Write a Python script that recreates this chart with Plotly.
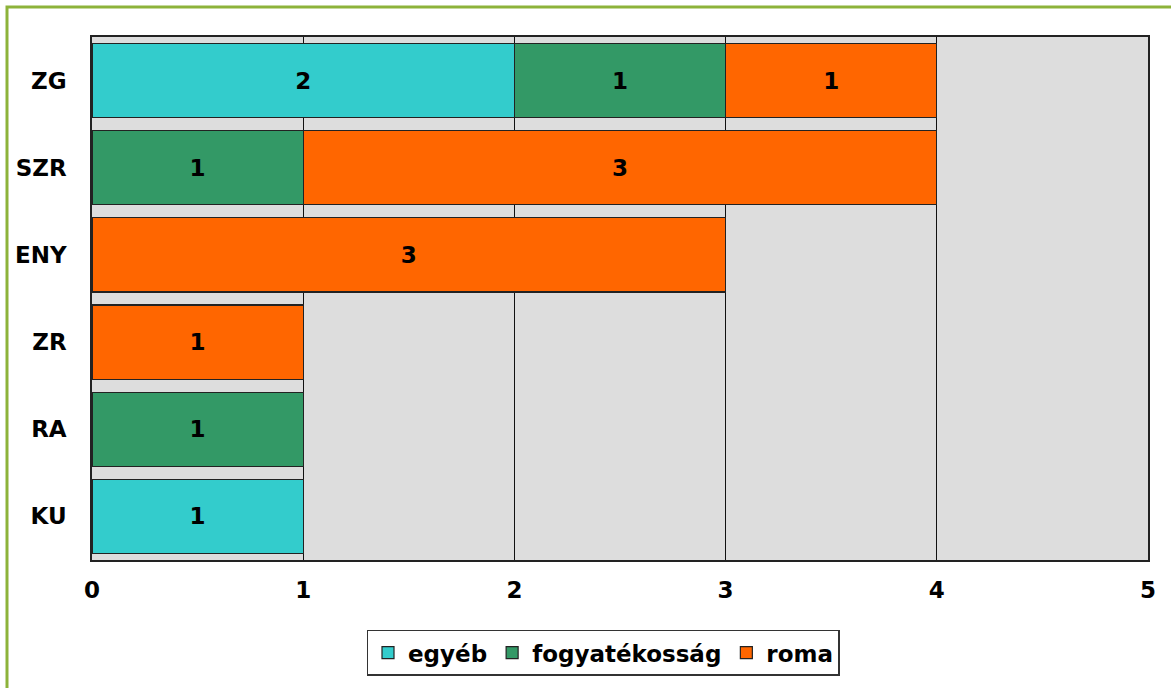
import plotly.graph_objects as go

categories = ["ZG", "SZR", "ENY", "ZR", "RA", "KU"]
egyeb = [2, None, None, None, None, 1]
fogyatekossag = [1, 1, None, None, 1, None]
roma = [1, 3, 3, 1, None, None]
x_ticks = [0, 1, 2, 3, 4, 5]

series = [
    ("egyéb", egyeb, "#33CCCC"),
    ("fogyatékosság", fogyatekossag, "#339966"),
    ("roma", roma, "#FF6600"),
]

FONT = "DejaVu Sans, Verdana, sans-serif"
FS = 23

fig = go.Figure()
for name, vals, color in series:
    fig.add_trace(go.Bar(
        y=categories, x=vals, name=name, orientation="h",
        marker=dict(color=color, line=dict(color="#222222", width=1.2)),
        text=[str(v) if v else "" for v in vals],
        textposition="inside", insidetextanchor="middle", textangle=0,
        textfont=dict(family=FONT, size=FS, color="black", weight="bold"),
        constraintext="none",
    ))

L, R, T, B = 92, 23, 37, 126
W, H = 1171, 688
pw, ph = W - L - R, H - T - B

fig.update_layout(
    width=W, height=H,
    barmode="stack", bargap=0.15,
    margin=dict(l=L, r=R, t=T, b=B),
    paper_bgcolor="white", plot_bgcolor="#DDDDDD",
    font=dict(family=FONT, size=FS, color="black", weight="bold"),
    xaxis=dict(range=[0, 5], tickvals=x_ticks, showgrid=True, gridcolor="#111111", gridwidth=1,
               zeroline=False, showline=True, linecolor="#222222", linewidth=1.5, mirror=True,
               ticks="", ticklabelstandoff=9, tickfont=dict(size=FS, weight="bold")),
    yaxis=dict(categoryorder="array", categoryarray=categories, autorange="reversed",
               showgrid=False, showline=True, linecolor="#222222", linewidth=1.5, mirror=True,
               ticks="", ticklabelstandoff=19, tickfont=dict(size=FS, weight="bold")),
    legend=dict(orientation="h", x=(603 - L) / pw, xanchor="center", y=(H - B - 655) / ph, yanchor="middle",
                bordercolor="#333333", borderwidth=1.5, bgcolor="white", traceorder="normal",
                font=dict(size=FS, weight="bold"), itemwidth=30, tracegroupgap=0),
    showlegend=True,
    shapes=[dict(type="rect", xref="paper", yref="paper",
                 x0=(7 - L) / pw, x1=(W + 10 - L) / pw,
                 y0=(H - B - (H + 10)) / ph, y1=(H - B - 7) / ph,
                 line=dict(color="#8DB33A", width=3), fillcolor="rgba(0,0,0,0)", layer="above")],
)

fig.write_html("out.html")
